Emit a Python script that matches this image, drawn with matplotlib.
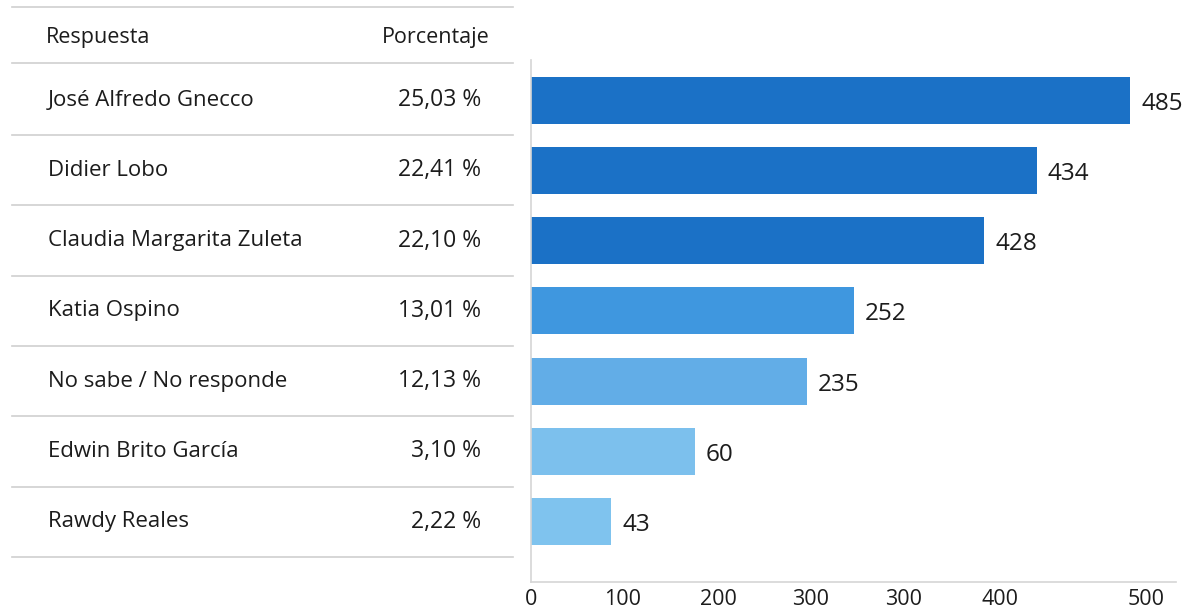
import numpy as np
import matplotlib
matplotlib.use('Agg')
import matplotlib.pyplot as plt

plt.rcParams['font.family'] = ['Open Sans', 'DejaVu Sans']

# table / bar data
nombres = ['José Alfredo Gnecco', 'Didier Lobo', 'Claudia Margarita Zuleta',
           'Katia Ospino', 'No sabe / No responde', 'Edwin Brito García',
           'Rawdy Reales']
porcentajes = ['25,03 %', '22,41 %', '22,10 %', '13,01 %', '12,13 %',
               '3,10 %', '2,22 %']
votos = [485, 434, 428, 252, 235, 60, 43]
# bar lengths as drawn in the picture (axis units)
largo = [487, 411, 368, 262, 224, 133, 65]
tick_pos = [0, 74, 152, 227, 303, 381, 500]
tick_lab = ['0', '100', '200', '300', '300', '400', '500']
colores = ['#1b71c6', '#1b71c6', '#1b71c6', '#3f97df', '#62ade7',
           '#7cc0ed', '#7fc3ee']

texto = '#1c1c1c'
linea = '#cfcfcf'

fig = plt.figure(figsize=(11.88, 6.11), dpi=100)

# ---- left table (pixel coordinates) ----
tab = fig.add_axes([0, 0, 520 / 1188, 1])
tab.set_xlim(0, 520)
tab.set_ylim(611, 0)
tab.axis('off')

paso = 70.3
y0 = 100
tab.plot([12, 513], [7, 7], color=linea, lw=1.2)
tab.plot([12, 513], [63, 63], color=linea, lw=1.2)
tab.text(46, 37, 'Respuesta', fontsize=15.5, color=texto, va='center', ha='left')
tab.text(490, 37, 'Porcentaje', fontsize=15.5, color=texto, va='center', ha='right')
for i in range(len(nombres)):
    yc = y0 + paso * i
    tab.text(48, yc, nombres[i], fontsize=16, color=texto, va='center', ha='left')
    tab.text(481, yc, porcentajes[i], fontsize=16.5, color=texto, va='center', ha='right')
    yl = y0 + paso * (i + 0.5)
    tab.plot([12, 513], [yl, yl], color=linea, lw=1.2)

# ---- bar chart ----
ax = fig.add_axes([531 / 1188, (611 - 582) / 611, 645 / 1188, 522 / 611])
y = np.arange(len(votos))
ax.barh(y, largo, height=0.67, color=colores)
for i in range(len(votos)):
    ax.text(largo[i] + 9, y[i] + 0.05, str(votos[i]), fontsize=17.5,
            color=texto, va='center', ha='left')

ax.set_xlim(0, 524)
ax.set_ylim(6.86, -0.57)
ax.set_xticks(tick_pos)
ax.set_xticklabels(tick_lab)
ax.tick_params(axis='x', length=0, pad=5, labelsize=15.5, labelcolor=texto)
ax.set_yticks([])
for s in ['top', 'right']:
    ax.spines[s].set_visible(False)
ax.spines['left'].set_color('#d5d5d5')
ax.spines['bottom'].set_color('#d5d5d5')
ax.spines['left'].set_linewidth(1.2)
ax.spines['bottom'].set_linewidth(1.2)

fig.savefig('out.png', dpi=100)
